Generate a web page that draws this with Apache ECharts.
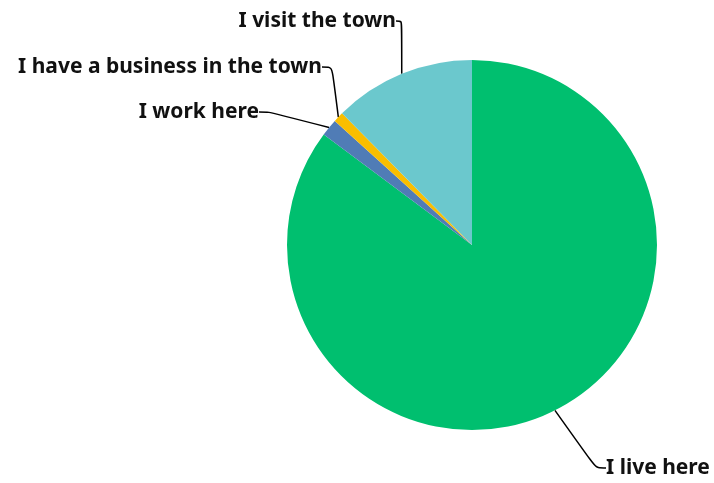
<!DOCTYPE html>
<html><head><meta charset="utf-8">
<script src="https://cdn.jsdelivr.net/npm/echarts@6/dist/echarts.min.js"></script>
<style>html,body{margin:0;padding:0;background:#fff;}#c{width:714px;height:483px;}</style>
</head><body><div id="c"></div>
<script>
var categories = ["I live here", "I work here", "I have a business in the town", "I visit the town"];
var values = [85.2, 1.5, 0.9, 12.4];
var colors = ["#00BF6F", "#507CB6", "#F9BE00", "#6BC8CD"];

// label anchor positions (text placement only)
var labelPos = [
  {x: 606, y: 468, align: 'left'},
  {x: 259, y: 112, align: 'right'},
  {x: 322, y: 67, align: 'right'},
  {x: 396, y: 21, align: 'right'}
];

var chart = echarts.init(document.getElementById('c'), null, {renderer: 'canvas'});
chart.setOption({
  animation: false,
  series: [{
    type: 'pie',
    center: [472, 245],
    radius: 185,
    startAngle: 90,
    clockwise: true,
    data: categories.map(function (c, i) {
      return {name: c, value: values[i], itemStyle: {color: colors[i]}};
    }),
    label: {
      show: true,
      formatter: '{b}',
      color: '#111',
      fontFamily: 'Noto Sans',
      fontWeight: 'bold',
      fontSize: 21,
      overflow: 'none',
      width: 400
    },
    labelLine: {
      show: true,
      smooth: 0.3,
      length: 20,
      length2: 10,
      lineStyle: {color: '#000', width: 1.5}
    },
    labelLayout: function (p) {
      var lp = labelPos[p.dataIndex];
      return {x: lp.x, y: lp.y, align: lp.align, verticalAlign: 'middle'};
    },
    emphasis: {disabled: true}
  }]
});
</script></body></html>
